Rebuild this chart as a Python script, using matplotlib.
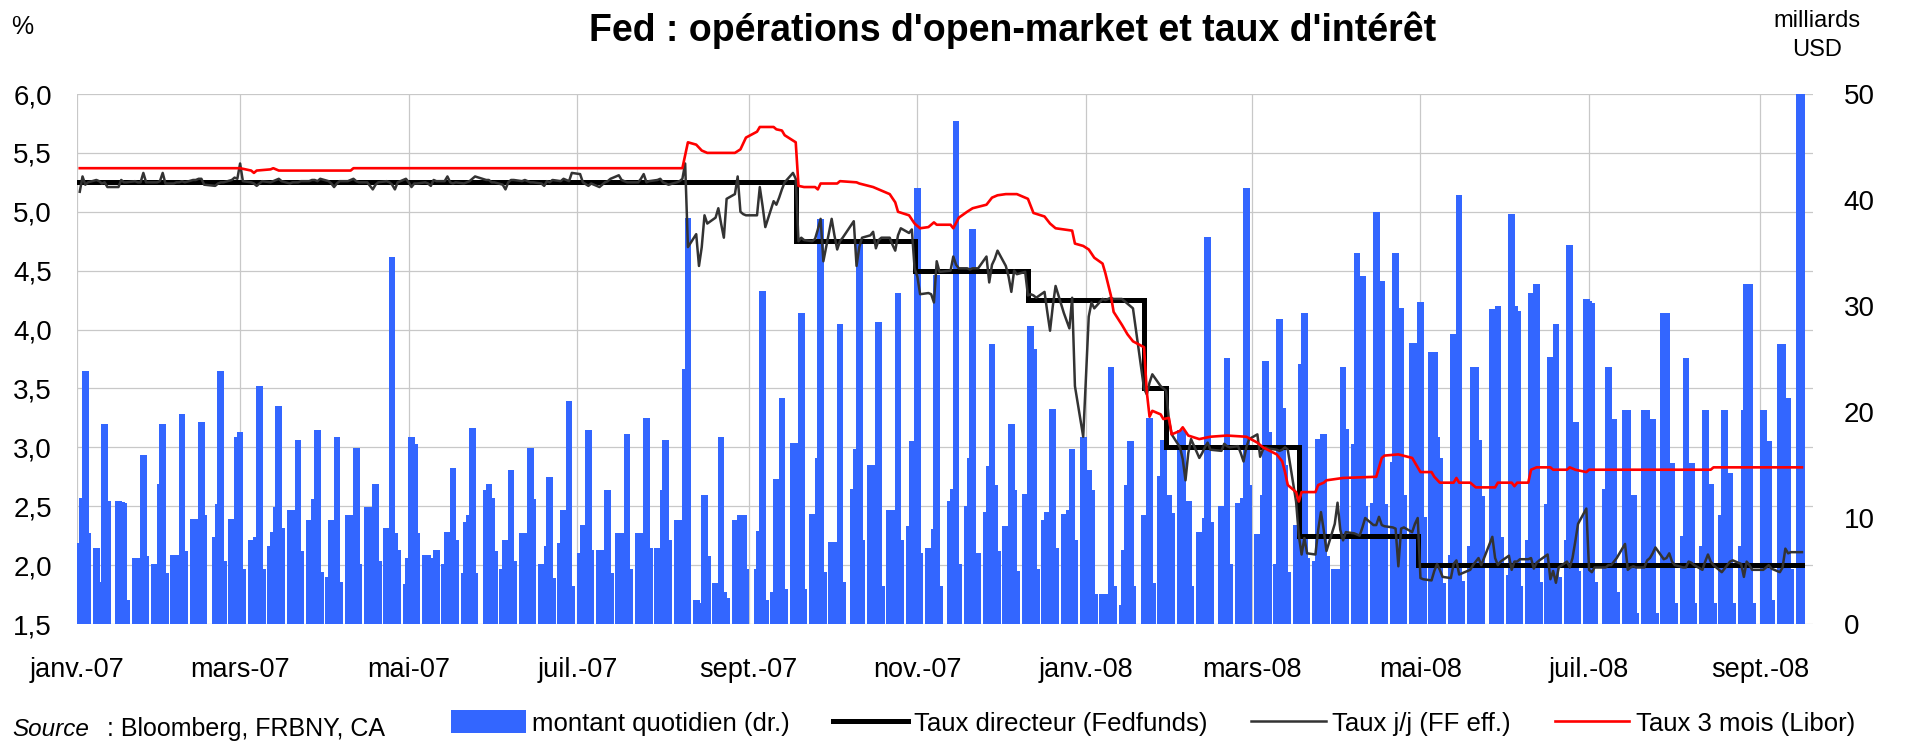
import matplotlib
matplotlib.use('Agg')
import matplotlib.pyplot as plt
from matplotlib.patches import Patch
from matplotlib.lines import Line2D
import pandas as pd

# jours ouvres sans operation (jours feries Fed)
feries = ['2007-01-01', '2007-01-15', '2007-02-19', '2007-05-28', '2007-07-04',
          '2007-09-03', '2007-10-08', '2007-11-12', '2007-11-22', '2007-12-25',
          '2008-01-01', '2008-01-21', '2008-02-18', '2008-05-26', '2008-07-04',
          '2008-09-01']
debut, fin = '2007-01-01', '2008-09-16'

# montant quotidien des operations d'open-market (milliards USD), une ligne par semaine
montant = [
    7.6, 11.9, 23.9, 8.6,            # 01/01/07
    7.2, 3.6, 4.0, 18.9, 11.6,
    11.6, 11.5, 11.4, 2.3,
    6.2, 6.2, 5.0, 15.9, 6.4,
    5.7, 5.7, 13.2, 18.9, 4.8,
    6.5, 6.5, 5.0, 19.8, 6.9,        # 05/02/07
    9.9, 9.9, 8.0, 19.1, 10.3,
    8.2, 11.3, 23.9, 5.9,
    9.9, 9.9, 17.6, 18.1, 5.2,
    7.9, 7.9, 8.2, 22.5, 5.2,        # 05/03/07
    7.4, 8.7, 11.0, 20.6, 9.1,
    10.8, 10.8, 8.0, 17.4, 6.9,
    9.8, 9.8, 11.8, 18.3, 4.9,
    4.4, 9.8, 9.8, 17.6, 4.0,        # 02/04/07
    10.3, 10.3, 8.0, 16.6, 5.7,
    11.0, 11.0, 9.0, 13.2, 5.9,
    9.1, 9.1, 34.6, 8.6, 7.0,
    3.8, 6.2, 17.6, 17.0, 8.6,
    6.5, 6.5, 6.2, 5.0, 7.0,         # 07/05/07
    5.7, 8.7, 8.7, 14.7, 7.9,
    4.8, 9.6, 10.3, 18.5, 4.8,
    12.6, 13.2, 11.9, 6.9,
    5.2, 7.9, 7.9, 14.5, 5.9,        # 04/06/07
    8.6, 8.6, 7.0, 16.6, 11.8,
    5.7, 5.7, 7.4, 13.9, 4.3,
    7.6, 10.8, 10.8, 21.0, 3.6,
    6.7, 9.3, 18.3, 7.0,             # 02/07/07
    7.0, 7.0, 6.0, 12.6, 4.8,
    8.6, 8.6, 7.0, 17.9, 5.2,
    8.6, 8.6, 7.0, 19.4, 7.2,
    7.2, 7.2, 12.6, 17.4, 7.9,
    9.8, 9.8, 9.8, 24.1, 38.3,       # 06/08/07
    2.3, 2.0, 2.0, 12.2, 6.4,
    3.9, 3.9, 17.6, 3.0, 2.5,
    9.8, 9.8, 10.3, 10.3, 5.2,
    5.2, 8.8, 31.4, 2.3,             # 03/09/07
    3.0, 13.7, 13.7, 21.3, 3.3,
    17.1, 17.1, 10.0, 29.3, 3.3,
    10.4, 10.4, 15.7, 38.2, 4.9,
    7.7, 7.7, 7.7, 28.3, 4.0,        # 01/10/07
    12.7, 16.5, 35.9, 7.9,
    15.0, 15.0, 10.0, 28.5, 3.6,
    10.8, 10.8, 9.0, 31.2, 7.9,
    9.2, 17.3, 17.3, 41.1, 6.7,
    7.2, 7.2, 9.0, 32.9, 3.6,        # 05/11/07
    11.6, 12.7, 47.5, 5.7,
    11.1, 15.7, 37.3, 6.7,
    10.6, 14.9, 26.4, 13.1, 6.9,
    9.2, 9.2, 18.9, 12.6, 5.0,       # 03/12/07
    12.3, 12.3, 28.1, 25.9, 5.2,
    9.8, 10.6, 10.6, 20.3, 7.2,
    10.4, 10.8, 16.5, 7.9,
    17.6, 14.5, 12.6, 2.8,           # 31/12/07
    2.8, 2.8, 2.8, 24.2, 3.6,
    1.8, 7.0, 13.1, 17.3, 3.6,
    10.3, 10.3, 19.4, 3.9,
    14.0, 17.4, 12.2, 12.2, 10.5,
    18.3, 18.3, 7.0, 11.6, 3.6,      # 04/02/08
    8.7, 8.7, 10.0, 36.5, 9.6,
    11.1, 11.1, 25.1, 5.7,
    11.4, 11.4, 11.9, 41.1, 13.1,
    8.5, 8.5, 12.2, 24.8, 18.1,      # 03/03/08
    5.7, 28.8, 20.4, 15.0, 4.9,
    9.3, 9.3, 24.5, 29.3, 6.2,
    5.9, 17.5, 17.5, 17.9, 6.4,
    5.2, 5.2, 5.2, 24.2, 18.4,       # 31/03/08
    17.0, 35.0, 30.0, 32.8, 11.1,
    11.4, 38.9, 30.0, 32.4, 11.3,
    15.3, 35.0, 29.8, 29.8, 12.2,
    26.5, 26.5, 20.0, 30.4, 10.1,
    25.7, 25.7, 17.6, 15.7, 3.9,     # 05/05/08
    6.5, 27.4, 27.4, 40.5, 4.1,
    7.4, 24.2, 24.2, 17.4, 12.1,
    29.7, 29.7, 30.0, 8.2,
    4.6, 38.7, 30.0, 29.5, 3.6,      # 02/06/08
    7.9, 31.2, 31.2, 32.1, 4.0,
    11.3, 25.2, 25.2, 28.3, 4.4,
    7.9, 35.8, 19.1, 19.1, 5.0,
    30.7, 30.5, 30.3, 4.0,           # 30/06/08
    12.7, 24.2, 19.3, 19.3, 3.0,
    20.2, 20.2, 12.2, 12.2, 1.0,
    20.2, 20.2, 19.3, 19.3, 1.0,
    29.3, 29.3, 15.2, 15.2, 2.0,
    8.3, 25.1, 15.2, 15.2, 2.0,      # 04/08/08
    7.4, 20.2, 13.2, 13.2, 2.0,
    10.3, 20.2, 14.2, 14.2, 2.0,
    7.4, 20.2, 32.1, 32.1, 2.0,
    20.2, 17.3, 17.3, 2.3,           # 01/09/08
    26.4, 26.4, 21.3, 21.3, 5.2,
    50.5, 50.5,
]

# taux j/j effectif (FF eff.), memes jours
taux_jj = [
    5.17, 5.30, 5.23, 5.25,          # 01/01/07
    5.27, 5.26, 5.24, 5.25, 5.21,
    5.21, 5.27, 5.25, 5.25,
    5.26, 5.25, 5.25, 5.33, 5.25,
    5.25, 5.25, 5.26, 5.33, 5.24,
    5.24, 5.25, 5.25, 5.26, 5.25,    # 05/02/07
    5.27, 5.27, 5.28, 5.28, 5.23,
    5.22, 5.24, 5.25, 5.25,
    5.27, 5.29, 5.28, 5.41, 5.26,
    5.25, 5.24, 5.22, 5.24, 5.26,    # 05/03/07
    5.25, 5.26, 5.27, 5.28, 5.26,
    5.24, 5.25, 5.25, 5.25, 5.26,
    5.26, 5.27, 5.27, 5.26, 5.28,
    5.26, 5.24, 5.21, 5.24, 5.26,    # 02/04/07
    5.26, 5.27, 5.28, 5.26, 5.25,
    5.25, 5.22, 5.19, 5.23, 5.25,
    5.26, 5.25, 5.23, 5.19, 5.25,
    5.28, 5.25, 5.21, 5.24, 5.24,
    5.25, 5.24, 5.22, 5.27, 5.26,    # 07/05/07
    5.26, 5.30, 5.25, 5.24, 5.25,
    5.24, 5.25, 5.26, 5.28, 5.30,
    5.27, 5.27, 5.25, 5.25,
    5.23, 5.19, 5.25, 5.27, 5.27,    # 04/06/07
    5.26, 5.27, 5.26, 5.25, 5.25,
    5.24, 5.22, 5.26, 5.25, 5.27,
    5.26, 5.28, 5.27, 5.26, 5.33,
    5.32, 5.25, 5.22, 5.24,          # 02/07/07
    5.21, 5.23, 5.25, 5.26, 5.28,
    5.31, 5.27, 5.26, 5.25, 5.25,
    5.25, 5.28, 5.32, 5.25, 5.26,
    5.27, 5.28, 5.25, 5.24, 5.23,
    5.25, 5.26, 5.28, 5.41, 4.70,    # 06/08/07
    4.81, 4.54, 4.70, 4.97, 4.90,
    4.95, 5.03, 4.90, 4.78, 5.11,
    5.15, 5.30, 5.00, 4.98, 4.97,
    4.97, 5.21, 5.05, 4.87,          # 03/09/07
    5.09, 5.06, 5.12, 5.19, 5.25,
    5.33, 5.28, 4.75, 4.78, 4.76,
    4.75, 4.77, 4.85, 4.94, 4.58,
    4.94, 4.80, 4.68, 4.75, 4.78,    # 01/10/07
    4.92, 4.54, 4.70, 4.78,
    4.80, 4.83, 4.69, 4.76, 4.78,
    4.78, 4.72, 4.67, 4.80, 4.86,
    4.82, 4.85, 4.52, 4.45, 4.30,
    4.31, 4.30, 4.23, 4.58, 4.49,    # 05/11/07
    4.50, 4.62, 4.55, 4.52,
    4.52, 4.51, 4.52, 4.52,
    4.62, 4.40, 4.55, 4.60, 4.67,
    4.54, 4.45, 4.32, 4.50, 4.47,    # 03/12/07
    4.49, 4.29, 4.30, 4.29, 4.27,
    4.32, 4.15, 3.99, 4.20, 4.37,
    4.14, 4.01, 4.27, 3.52,
    3.09, 4.11, 4.23, 4.18,          # 31/12/07
    4.26, 4.25, 4.26, 4.27, 4.26,
    4.26, 4.24, 4.22, 4.20, 4.18,
    3.50, 3.45, 3.55, 3.62,
    3.52, 3.50, 3.48, 3.23, 3.11,
    3.00, 2.90, 2.72, 2.95, 3.07,    # 04/02/08
    2.91, 2.95, 3.00, 3.04, 2.98,
    2.97, 3.03, 3.01, 3.00,
    3.01, 2.95, 2.88, 3.00, 3.07,
    3.11, 2.92, 2.98, 3.00, 2.99,    # 03/03/08
    2.98, 2.97, 2.98, 3.00, 2.98,
    2.54, 2.25, 2.09, 2.23, 2.10,
    2.09, 2.30, 2.45, 2.30, 2.12,
    2.35, 2.53, 2.30, 2.21, 2.28,    # 31/03/08
    2.27, 2.26, 2.25, 2.32, 2.40,
    2.34, 2.34, 2.41, 2.34, 2.33,
    2.32, 2.31, 1.99, 2.31, 2.32,
    2.28, 2.35, 2.40, 1.89, 1.88,
    1.87, 1.95, 2.01, 1.96, 1.90,    # 05/05/08
    1.89, 2.01, 2.04, 1.92, 1.93,
    1.96, 2.00, 2.03, 2.06, 2.00,
    2.24, 2.06, 2.00, 2.03,
    2.08, 1.96, 2.03, 2.03, 2.05,    # 02/06/08
    2.05, 2.06, 1.97, 2.02, 2.04,
    2.09, 1.88, 1.95, 1.85, 1.98,
    2.03, 1.98, 2.06, 2.20, 2.35,
    2.48, 1.96, 1.94, 1.98,          # 30/06/08
    1.98, 2.00, 2.00, 2.03, 2.06,
    2.18, 1.96, 1.98, 1.99, 1.98,
    1.98, 2.04, 2.06, 2.10, 2.15,
    2.05, 2.06, 2.10, 2.03, 2.00,
    1.98, 1.98, 2.03, 2.02, 2.00,    # 04/08/08
    1.96, 2.03, 2.09, 2.03, 2.00,
    1.94, 1.97, 2.00, 2.03, 2.04,
    2.01, 1.90, 2.03, 2.00, 1.96,
    1.96, 1.98, 2.00, 1.97,          # 01/09/08
    1.94, 1.98, 2.14, 2.10, 2.11,
    2.11, 2.11,
]

# taux directeur (Fedfunds) : dates de changement
directeur_dates = ['2007-01-01', '2007-09-18', '2007-10-31', '2007-12-11',
                   '2008-01-22', '2008-01-30', '2008-03-18', '2008-04-30', '2008-09-16']
directeur = [5.25, 4.75, 4.50, 4.25, 3.50, 3.00, 2.25, 2.00, 2.00]

# Libor 3 mois
libor_dates = [
    '2007-01-02', '2007-03-01', '2007-03-05', '2007-03-06', '2007-03-07', '2007-03-12',
    '2007-03-13', '2007-03-15', '2007-04-10', '2007-04-11', '2007-08-08', '2007-08-10',
    '2007-08-13', '2007-08-15', '2007-08-17', '2007-08-27', '2007-08-29', '2007-08-31',
    '2007-09-04', '2007-09-05', '2007-09-10', '2007-09-11', '2007-09-13', '2007-09-14',
    '2007-09-18', '2007-09-19', '2007-09-21', '2007-09-25', '2007-09-26', '2007-09-27',
    '2007-10-03', '2007-10-04', '2007-10-10', '2007-10-11', '2007-10-16', '2007-10-19',
    '2007-10-22', '2007-10-24', '2007-10-25', '2007-10-29', '2007-10-31', '2007-11-02',
    '2007-11-05', '2007-11-07', '2007-11-08', '2007-11-13', '2007-11-14', '2007-11-16',
    '2007-11-19', '2007-11-21', '2007-11-26', '2007-11-28', '2007-11-30', '2007-12-03',
    '2007-12-07', '2007-12-10', '2007-12-11', '2007-12-13', '2007-12-17', '2007-12-19',
    '2007-12-21', '2007-12-27', '2007-12-28', '2007-12-31', '2008-01-02', '2008-01-04',
    '2008-01-07', '2008-01-08', '2008-01-10', '2008-01-11', '2008-01-14', '2008-01-16',
    '2008-01-18', '2008-01-22', '2008-01-23', '2008-01-24', '2008-01-25', '2008-01-28',
    '2008-01-29', '2008-01-31', '2008-02-01', '2008-02-04', '2008-02-05', '2008-02-07',
    '2008-02-11', '2008-02-15', '2008-02-21', '2008-02-28', '2008-03-03', '2008-03-05',
    '2008-03-10', '2008-03-12', '2008-03-13', '2008-03-14', '2008-03-17', '2008-03-18',
    '2008-03-19', '2008-03-24', '2008-03-25', '2008-03-27', '2008-03-28', '2008-04-03',
    '2008-04-15', '2008-04-17', '2008-04-18', '2008-04-23', '2008-04-28', '2008-04-29',
    '2008-05-01', '2008-05-05', '2008-05-06', '2008-05-08', '2008-05-13', '2008-05-14',
    '2008-05-15', '2008-05-19', '2008-05-21', '2008-05-28', '2008-05-29', '2008-06-03',
    '2008-06-04', '2008-06-05', '2008-06-09', '2008-06-10', '2008-06-12', '2008-06-17',
    '2008-06-18', '2008-06-23', '2008-06-24', '2008-06-26', '2008-06-30', '2008-07-01',
    '2008-08-14', '2008-08-15', '2008-09-16',
]
libor = [
    5.37, 5.37, 5.35, 5.33, 5.35, 5.36,
    5.37, 5.35, 5.35, 5.37, 5.37, 5.59,
    5.57, 5.52, 5.50, 5.50, 5.53, 5.63,
    5.68, 5.72, 5.72, 5.70, 5.69, 5.65,
    5.59, 5.22, 5.21, 5.21, 5.19, 5.24,
    5.24, 5.26, 5.25, 5.24, 5.21, 5.18,
    5.15, 5.08, 5.00, 4.97, 4.90, 4.86,
    4.87, 4.91, 4.89, 4.89, 4.86, 4.95,
    5.00, 5.03, 5.06, 5.12, 5.14, 5.15,
    5.15, 5.12, 5.11, 4.99, 4.96, 4.90,
    4.86, 4.84, 4.73, 4.71, 4.68, 4.61,
    4.56, 4.48, 4.29, 4.15, 4.04, 3.96,
    3.90, 3.85, 3.47, 3.26, 3.31, 3.28,
    3.24, 3.25, 3.11, 3.14, 3.17, 3.10,
    3.07, 3.09, 3.10, 3.09, 3.04, 3.00,
    2.94, 2.88, 2.79, 2.68, 2.62, 2.54,
    2.62, 2.62, 2.68, 2.70, 2.72, 2.74,
    2.75, 2.91, 2.93, 2.94, 2.91, 2.87,
    2.79, 2.79, 2.75, 2.70, 2.70, 2.74,
    2.70, 2.70, 2.66, 2.66, 2.70, 2.70,
    2.67, 2.70, 2.70, 2.81, 2.83, 2.83,
    2.81, 2.81, 2.83, 2.81, 2.79, 2.81,
    2.81, 2.83, 2.83,
]

taux_ticks = [1.5, 2.0, 2.5, 3.0, 3.5, 4.0, 4.5, 5.0, 5.5, 6.0]
montant_ticks = [0, 10, 20, 30, 40, 50]
mois_ticks = ['2007-01-01', '2007-03-01', '2007-05-01', '2007-07-01', '2007-09-01',
              '2007-11-01', '2008-01-01', '2008-03-01', '2008-05-01', '2008-07-01',
              '2008-09-01']
mois_labels = ['janv.-07', 'mars-07', 'mai-07', 'juil.-07', 'sept.-07', 'nov.-07',
               'janv.-08', 'mars-08', 'mai-08', 'juil.-08', 'sept.-08']

jours = pd.bdate_range(debut, fin)
jours = jours[~jours.isin(pd.to_datetime(feries))]

plt.rcParams['font.family'] = ['Liberation Sans', 'DejaVu Sans']

bleu = '#3366FF'
W, H = 1912, 744
fig = plt.figure(figsize=(W / 100, H / 100), dpi=100)
rect = [77 / W, 1 - 624 / H, (1813 - 77) / W, (624 - 94) / H]
axb = fig.add_axes(rect)      # barres, echelle de droite
axl = axb.twinx()             # taux, echelle de gauche
axl.set_zorder(axb.get_zorder() + 1)
axl.patch.set_visible(False)
axb.yaxis.tick_right()
axl.yaxis.tick_left()

axb.bar(jours, montant, width=2.4, color=bleu, linewidth=0, zorder=2)
axb.set_ylim(0, 50)
axb.set_yticks(montant_ticks)
axb.set_yticklabels([str(v) for v in montant_ticks])

axl.plot(pd.to_datetime(directeur_dates), directeur, drawstyle='steps-post',
         color='black', lw=3.6, solid_joinstyle='miter')
axl.plot(jours, taux_jj, color='#333333', lw=1.8)
axl.plot(pd.to_datetime(libor_dates), libor, color='#FF0000', lw=1.9)
axl.set_ylim(1.5, 6.0)
axl.set_yticks(taux_ticks)
axl.set_yticklabels([f'{v:.1f}'.replace('.', ',') for v in taux_ticks])

# quadrillage horizontal sur l'echelle de gauche, derriere les barres
for v in taux_ticks:
    axb.plot([0, 1], [v, v], transform=axl.get_yaxis_transform(),
             color='#C8C8C8', lw=0.9, zorder=0)

axb.set_xlim(pd.Timestamp('2007-01-01'), pd.Timestamp('2008-09-20'))
axb.set_xticks(pd.to_datetime(mois_ticks))
axb.set_xticklabels(mois_labels)
axb.grid(axis='x', color='#C8C8C8', lw=0.9, zorder=0)
axb.set_axisbelow(True)

for a in (axb, axl):
    for s in a.spines.values():
        s.set_visible(False)
axb.tick_params(axis='x', length=0, pad=24, labelsize=19.5)
axb.tick_params(axis='y', length=0, pad=22, labelsize=20)
axl.tick_params(axis='y', length=0, pad=18, labelsize=20)

fig.text(1013 / W, 1 - 30 / H, "Fed : opérations d'open-market et taux d'intérêt",
         ha='center', va='center', fontsize=27, fontweight='bold')
fig.text(22 / W, 1 - 27 / H, '%', ha='center', va='center', fontsize=18)
fig.text(1817 / W, 1 - 21 / H, 'milliards', ha='center', va='center', fontsize=17)
fig.text(1817 / W, 1 - 50 / H, 'USD', ha='center', va='center', fontsize=17)

fig.text(12 / W, 1 - 729 / H, 'Source', ha='left', va='center', fontsize=17.5,
         style='italic')
fig.text(107 / W, 1 - 729 / H, ': Bloomberg, FRBNY, CA', ha='left', va='center',
         fontsize=18)

handles = [Patch(facecolor=bleu, edgecolor='none'),
           Line2D([], [], color='black', lw=3.6),
           Line2D([], [], color='#333333', lw=1.8),
           Line2D([], [], color='#FF0000', lw=1.9)]
labels = ['montant quotidien (dr.)', 'Taux directeur (Fedfunds)',
          'Taux j/j (FF eff.)', 'Taux 3 mois (Libor)']
fig.legend(handles, labels, loc='center left', bbox_to_anchor=(451 / W, 1 - 723 / H),
           ncol=4, frameon=False, fontsize=18.5, handlelength=2.9, handleheight=1.0,
           handletextpad=0.25, columnspacing=1.7, borderpad=0, borderaxespad=0)

fig.savefig('out.png', dpi=100)
